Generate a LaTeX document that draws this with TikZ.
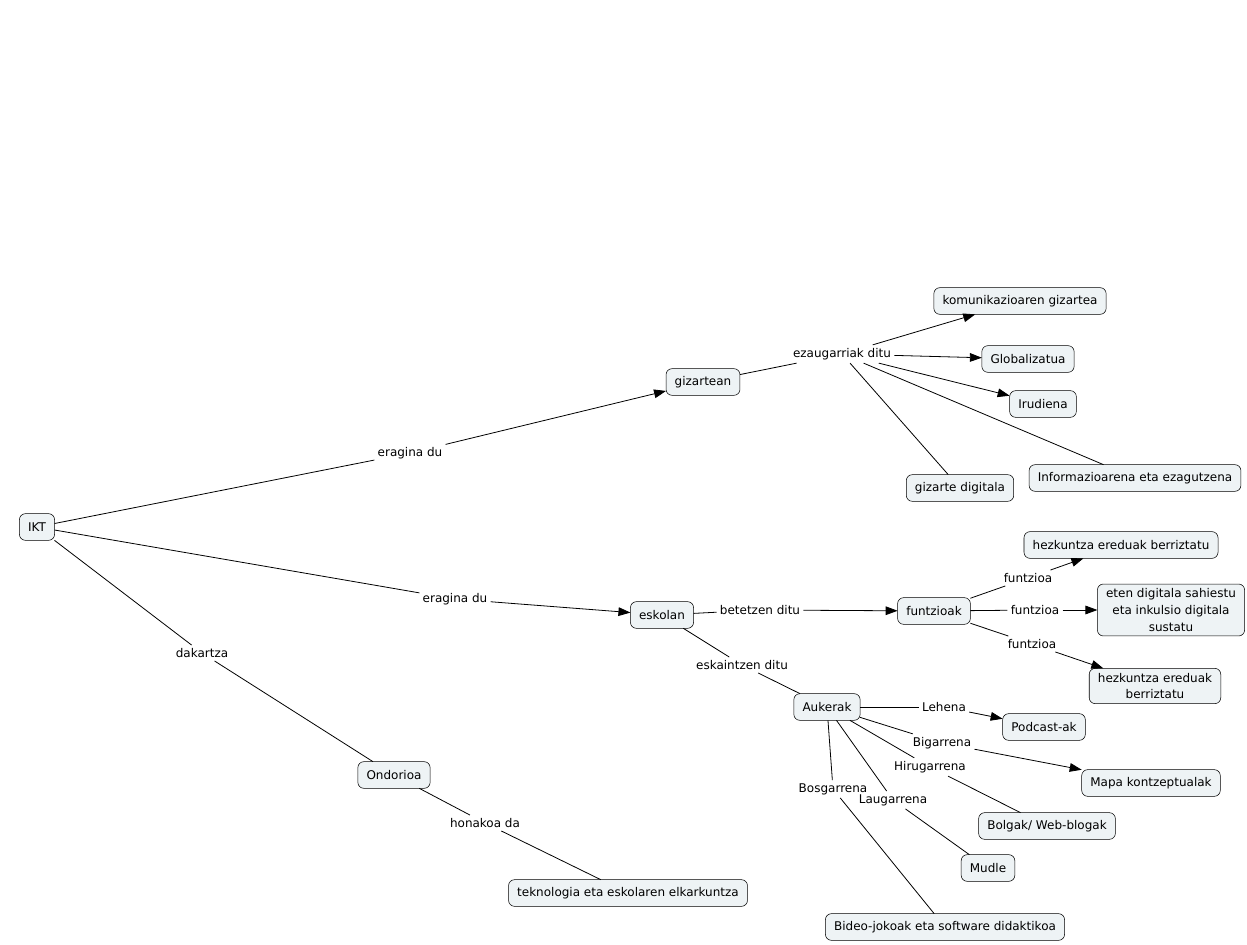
\documentclass[tikz,border=0pt]{standalone}
\usepackage{fontspec}
\setmainfont{DejaVu Sans}
\usepackage{tikz,tkz-graph}
\usetikzlibrary{arrows.meta}
\definecolor{conceptFill}{RGB}{238,243,245}
\tikzstyle{conceptStyle}=[shape = rectangle, rounded corners = 4.5pt, minimum height = 20pt, inner xsep = 6.5pt, inner ysep = 3.5pt, align = center, draw, fill = conceptFill]
\tikzstyle{phraseStyle}=[shape = rectangle, inner sep = 2.5pt]

\begin{document}
\begin{tikzpicture}[x = 0.75pt, y = -0.75pt, font = \fontsize{9}{12.5}\selectfont]
\tikzstyle{VertexStyle} = []
\tikzstyle{EdgeStyle} = [line width = 0.6pt]
\tikzstyle{arrowStyle} = [-{Triangle[length = 9pt, width = 6.5pt]}]
\useasboundingbox (0,0) rectangle (1247,945);
\Vertex[style = conceptStyle, x = 37, y = 527, L = {IKT}]{v0}
\Vertex[style = conceptStyle, x = 703, y = 382, L = {gizartean}]{v1}
\Vertex[style = conceptStyle, x = 1020, y = 301, L = {komunikazioaren gizartea}]{v2}
\Vertex[style = conceptStyle, x = 1028, y = 359, L = {Globalizatua}]{v3}
\Vertex[style = conceptStyle, x = 1043, y = 404, L = {Irudiena}]{v4}
\Vertex[style = conceptStyle, x = 960, y = 488, L = {gizarte digitala}]{v5}
\Vertex[style = conceptStyle, x = 1135, y = 478, L = {Informazioarena eta ezagutzena}]{v6}
\Vertex[style = conceptStyle, x = 662, y = 615, L = {eskolan}]{v7}
\Vertex[style = conceptStyle, x = 934, y = 611, L = {funtzioak}]{v8}
\Vertex[style = conceptStyle, x = 1121, y = 545, L = {hezkuntza ereduak berriztatu}]{v9}
\Vertex[style = conceptStyle, x = 1171, y = 610, L = {eten digitala sahiestu\\ eta inkulsio digitala\\ sustatu}]{v10}
\Vertex[style = conceptStyle, x = 1155, y = 686, L = {hezkuntza ereduak\\ berriztatu}]{v11}
\Vertex[style = conceptStyle, x = 827, y = 707, L = {Aukerak}]{v12}
\Vertex[style = conceptStyle, x = 1044, y = 727, L = {Podcast-ak}]{v13}
\Vertex[style = conceptStyle, x = 1151, y = 783, L = {Mapa kontzeptualak}]{v14}
\Vertex[style = conceptStyle, x = 1047, y = 826, L = {Bolgak/ Web-blogak}]{v15}
\Vertex[style = conceptStyle, x = 988, y = 868, L = {Mudle}]{v16}
\Vertex[style = conceptStyle, x = 945, y = 927, L = {Bideo-jokoak eta software didaktikoa}]{v17}
\Vertex[style = conceptStyle, x = 394, y = 775, L = {Ondorioa}]{v18}
\Vertex[style = conceptStyle, x = 628, y = 893, L = {teknologia eta eskolaren elkarkuntza}]{v19}
\Vertex[style = phraseStyle, x = 410, y = 453, L = {eragina du}]{v20}
\Vertex[style = phraseStyle, x = 842, y = 354, L = {ezaugarriak ditu}]{v21}
\Vertex[style = phraseStyle, x = 455, y = 599, L = {eragina du}]{v22}
\Vertex[style = phraseStyle, x = 760, y = 610, L = {betetzen ditu}]{v23}
\Vertex[style = phraseStyle, x = 1028, y = 578, L = {funtzioa}]{v24}
\Vertex[style = phraseStyle, x = 1035, y = 610, L = {funtzioa}]{v25}
\Vertex[style = phraseStyle, x = 1032, y = 644, L = {funtzioa}]{v26}
\Vertex[style = phraseStyle, x = 742, y = 665, L = {eskaintzen ditu}]{v27}
\Vertex[style = phraseStyle, x = 944, y = 707, L = {Lehena}]{v28}
\Vertex[style = phraseStyle, x = 942, y = 743, L = {Bigarrena}]{v29}
\Vertex[style = phraseStyle, x = 930, y = 767, L = {Hirugarrena}]{v30}
\Vertex[style = phraseStyle, x = 893, y = 800, L = {Laugarrena}]{v31}
\Vertex[style = phraseStyle, x = 833, y = 789, L = {Bosgarrena}]{v32}
\Vertex[style = phraseStyle, x = 202, y = 653, L = {dakartza}]{v33}
\Vertex[style = phraseStyle, x = 485, y = 823, L = {honakoa da}]{v34}
\Edge(v0)(v20)
\Edge[style = arrowStyle](v20)(v1)
\Edge(v1)(v21)
\Edge[style = arrowStyle](v21)(v2)
\Edge[style = arrowStyle](v21)(v3)
\Edge[style = arrowStyle](v21)(v4)
\Edge(v21)(v5)
\Edge(v21)(v6)
\Edge(v0)(v22)
\Edge[style = arrowStyle](v22)(v7)
\Edge(v7)(v23)
\Edge[style = arrowStyle](v23)(v8)
\Edge(v8)(v24)
\Edge[style = arrowStyle](v24)(v9)
\Edge(v8)(v25)
\Edge[style = arrowStyle](v25)(v10)
\Edge(v8)(v26)
\Edge[style = arrowStyle](v26)(v11)
\Edge(v7)(v27)
\Edge(v27)(v12)
\Edge(v12)(v28)
\Edge[style = arrowStyle](v28)(v13)
\Edge(v12)(v29)
\Edge[style = arrowStyle](v29)(v14)
\Edge(v12)(v30)
\Edge(v30)(v15)
\Edge(v12)(v31)
\Edge(v31)(v16)
\Edge(v12)(v32)
\Edge(v32)(v17)
\Edge(v0)(v33)
\Edge(v33)(v18)
\Edge(v18)(v34)
\Edge(v34)(v19)
\end{tikzpicture}
\end{document}
